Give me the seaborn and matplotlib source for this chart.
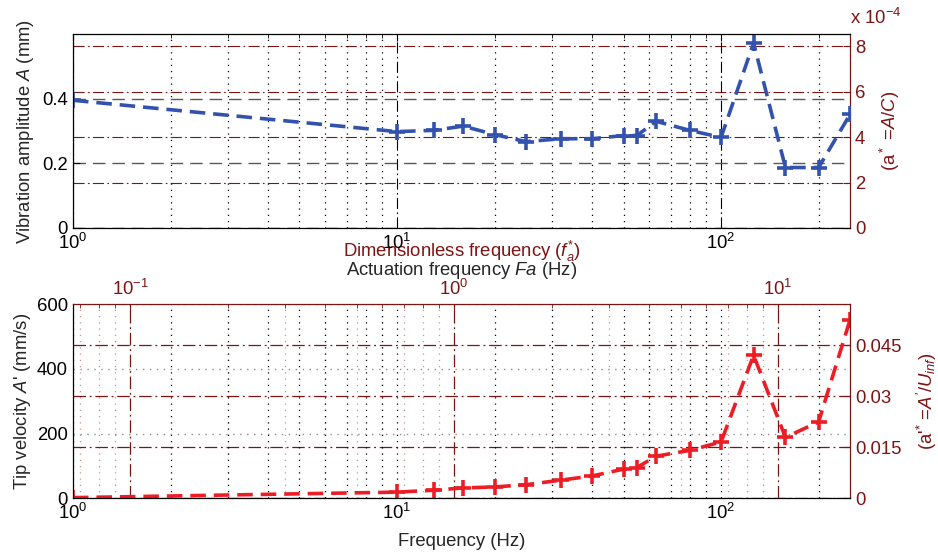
import numpy as np
import matplotlib
matplotlib.use("Agg")
import matplotlib.pyplot as plt
import seaborn as sns
from matplotlib.ticker import NullFormatter

# values
freq = [1, 10, 13, 16, 20, 25, 32, 40, 50, 55, 63, 80, 100, 126, 158, 200, 250]
amp = [0.395, 0.298, 0.302, 0.315, 0.289, 0.267, 0.276, 0.276, 0.286, 0.286,
       0.330, 0.302, 0.280, 0.572, 0.187, 0.187, 0.351]
vel = [2, 19, 25, 32, 35, 42, 56, 69, 90, 95, 130, 148, 174, 442, 188, 236, 551]

f_ref = 15.0      # Fa / f*_a
C = 703.0         # mm
U_inf = 10500.0   # mm/s

sns.set_style("white")
plt.rcParams['font.family'] = ['Liberation Sans', 'DejaVu Sans']
plt.rcParams['mathtext.fontset'] = 'custom'
plt.rcParams['mathtext.rm'] = 'Liberation Sans'
plt.rcParams['mathtext.it'] = 'Liberation Sans:italic'
plt.rcParams['mathtext.bf'] = 'Liberation Sans:bold'
fs = 13.3
plt.rcParams['font.size'] = fs

dred = '#7d1414'
blue = '#3352ad'
red = '#ee1d25'
dashdot = (0, (10, 3, 1.5, 3))
dots = (0, (1, 4))

fig = plt.figure(figsize=(9.38, 5.57), dpi=100)
pos_top = [0.0778, 0.5907, 0.8284, 0.3483]
pos_bot = [0.0778, 0.1054, 0.8284, 0.3488]

# ---------------- top plot ----------------
ax1 = fig.add_axes(pos_top)
ax1r = ax1.twinx()
ax1.set_zorder(2)
ax1.patch.set_visible(False)
ax1r.set_zorder(1)

sns.lineplot(x=freq, y=amp, ax=ax1, color=blue, marker='+', markersize=11,
             markeredgewidth=2.6, markeredgecolor=blue, linewidth=2.6,
             linestyle=(0, (4.3, 2.2)))
ax1.set_xscale('log')
ax1.set_xlim(1, 250)
ax1.set_ylim(0, 0.6)
ax1.set_yticks([0, 0.2, 0.4])
ax1.set_yticklabels(['0', '0.2', '0.4'])
ax1.xaxis.set_minor_formatter(NullFormatter())
ax1.grid(axis='x', which='major', color='k', ls=dashdot, lw=0.8)
ax1.grid(axis='x', which='minor', color='k', ls=dots, lw=0.9)
ax1.grid(axis='y', which='major', color='0.35', ls=(0, (9, 5)), lw=1.0)
ax1.tick_params(axis='both', which='both', direction='in', top=True, right=False,
                colors='k', labelsize=fs)
ax1.tick_params(which='major', length=5)
ax1.tick_params(which='minor', length=3)
ax1.spines['right'].set_visible(False)
for s in ['left', 'bottom', 'top']:
    ax1.spines[s].set_color('k')
    ax1.spines[s].set_linewidth(0.9)
ax1.set_ylabel("Vibration amplitude $A$ (mm)")
ax1.yaxis.set_label_coords(-0.048, 0.5)
ax1.set_xlabel("Actuation frequency $Fa$ (Hz)")
ax1.xaxis.set_label_coords(0.5, -0.165)

ax1r.set_ylim(0, 0.6 / C * 1e4)
ax1r.set_yticks([0, 2, 4, 6, 8])
ax1r.set_yticklabels(['0', '2', '4', '6', '8'])
ax1r.grid(axis='y', color=dred, ls=dashdot, lw=0.8)
ax1r.tick_params(axis='y', direction='in', colors=dred, length=5, labelsize=fs)
for s in ['left', 'bottom', 'top']:
    ax1r.spines[s].set_visible(False)
ax1r.spines['right'].set_color(dred)
ax1r.spines['right'].set_linewidth(0.9)
ax1r.set_ylabel("(a$^*$ =$A/C$)", color=dred)
ax1r.yaxis.set_label_coords(1.036, 0.5)
ax1r.text(1.0, 1.03, "x 10$^{-4}$", transform=ax1r.transAxes, color=dred,
          ha='left', va='bottom', fontsize=fs)

# ---------------- bottom plot ----------------
ax2 = fig.add_axes(pos_bot)
ax2t = fig.add_axes(pos_bot)
ax2.set_zorder(2)
ax2.patch.set_visible(False)
ax2t.set_zorder(1)

sns.lineplot(x=freq, y=vel, ax=ax2, color=red, marker='+', markersize=11,
             markeredgewidth=2.6, markeredgecolor=red, linewidth=2.6,
             linestyle=(0, (4.3, 2.2)))
ax2.set_xscale('log')
ax2.set_xlim(1, 250)
ax2.set_ylim(0, 600)
ax2.set_yticks([0, 200, 400, 600])
ax2.xaxis.set_minor_formatter(NullFormatter())
ax2.grid(axis='x', which='both', color='k', ls=dots, lw=0.9)
ax2.grid(axis='y', which='major', color='0.55', ls=dots, lw=1.0)
ax2.tick_params(axis='both', which='both', direction='in', top=False, right=False,
                colors='k', labelsize=fs)
ax2.tick_params(which='major', length=5)
ax2.tick_params(which='minor', length=3)
for s in ['left', 'bottom']:
    ax2.spines[s].set_color('k')
    ax2.spines[s].set_linewidth(0.9)
for s in ['right', 'top']:
    ax2.spines[s].set_color(dred)
    ax2.spines[s].set_linewidth(0.9)
ax2.set_ylabel("Tip velocity $A$' (mm/s)")
ax2.yaxis.set_label_coords(-0.052, 0.5)
ax2.set_xlabel("Frequency (Hz)")
ax2.xaxis.set_label_coords(0.5, -0.18)

ax2t.patch.set_visible(False)
ax2t.set_xscale('log')
ax2t.set_xlim(1 / f_ref, 250 / f_ref)
ax2t.set_ylim(0, 600 / U_inf)
ax2t.set_yticks([0, 0.015, 0.03, 0.045])
ax2t.set_yticklabels(['0', '0.015', '0.03', '0.045'])
ax2t.xaxis.tick_top()
ax2t.yaxis.tick_right()
ax2t.xaxis.set_minor_formatter(NullFormatter())
ax2t.grid(axis='x', which='major', color=dred, ls=dashdot, lw=0.9)
ax2t.grid(axis='x', which='minor', color=dred, ls=dots, lw=0.9, alpha=0.45)
ax2t.grid(axis='y', which='major', color=dred, ls=dashdot, lw=0.9)
ax2t.tick_params(axis='both', which='both', direction='in', colors=dred, labelsize=fs)
ax2t.tick_params(which='major', length=5)
ax2t.tick_params(which='minor', length=3)
for s in ax2t.spines.values():
    s.set_visible(False)
ax2t.set_ylabel("(a$'^{*}$ =$A'/U_{inf}$)", color=dred)
ax2t.yaxis.set_label_position('right')
ax2t.yaxis.set_label_coords(1.084, 0.5)
ax2t.set_xlabel("Dimensionless frequency ($f^{*}_{a}$)", color=dred)
ax2t.xaxis.set_label_position('top')
ax2t.xaxis.set_label_coords(0.5, 1.24)

fig.savefig("out.png", dpi=100)
